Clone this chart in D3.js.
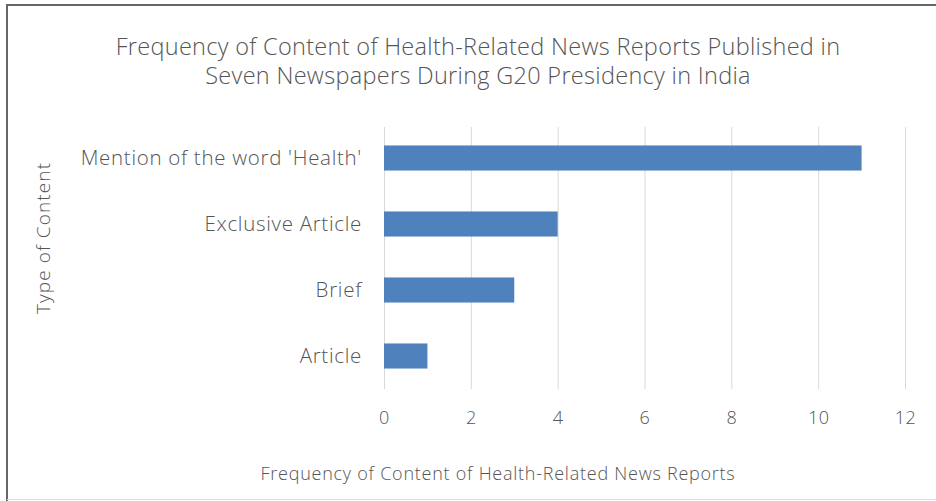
<!doctype html>
<html lang="en">
<head>
<meta charset="utf-8">
<title>Health-Related News Reports</title>
<script src="https://cdn.jsdelivr.net/npm/d3@7"></script>
<style>
	body { margin: 0; background: #fff; }
	text { font-family: "Open Sans", Lato, sans-serif; font-weight: 300; fill: #555; }
	.axis path.domain { stroke: none; }
	.axis line { stroke: none; }
</style>
</head>
<body>
<div id="viz"></div>
<script>

var categories = ["Mention of the word 'Health'", "Exclusive Article", "Brief", "Article"];
var counts = [11, 4, 3, 1];
var xTicks = [0, 2, 4, 6, 8, 10, 12];
var titleLines = ["Frequency of Content of Health-Related News Reports Published in",
	"Seven Newspapers During G20 Presidency in India"];
var xTitle = "Frequency of Content of Health-Related News Reports";
var yTitle = "Type of Content";

(function(d3) {

	var w = 936, h = 501;
	var margin = {top: 125, right: 31, bottom: 112, left: 384};
	var width = w - margin.left - margin.right,
		height = h - margin.top - margin.bottom;

	var data = categories.map((c, i) => ({name: c, value: counts[i]}));

	var svg = d3.select("#viz")
		.append("svg")
		.attr("width", w)
		.attr("height", h);

	// frame (cropped chart border)
	svg.append("line").attr("x1", 6).attr("x2", w).attr("y1", 5).attr("y2", 5)
		.style("stroke", "#666").style("stroke-width", 2);
	svg.append("line").attr("x1", 7).attr("x2", 7).attr("y1", 5).attr("y2", h)
		.style("stroke", "#666").style("stroke-width", 2);
	svg.append("line").attr("x1", 7).attr("x2", w).attr("y1", 499.5).attr("y2", 499.5)
		.style("stroke", "#ddd").style("stroke-width", 1);

	var xScale = d3.scaleLinear()
		.domain([0, 12])
		.range([0, width]);

	var yScale = d3.scaleBand()
		.domain(categories)
		.range([0, height])
		.paddingInner(0.62)
		.paddingOuter(0.31);

	var g = svg.append("g")
		.attr("transform", "translate(" + margin.left + "," + margin.top + ")");

	// vertical gridlines
	g.selectAll("line.grid")
		.data(xTicks)
		.enter()
		.append("line")
		.attr("class", "grid")
		.attr("x1", d => xScale(d) + 0.5)
		.attr("x2", d => xScale(d) + 0.5)
		.attr("y1", 2)
		.attr("y2", height)
		.style("stroke", "#d9d9d9")
		.style("stroke-width", 1);

	g.selectAll("rect.bar")
		.data(data)
		.enter()
		.append("rect")
		.attr("class", "bar")
		.attr("x", xScale(0))
		.attr("y", d => yScale(d.name))
		.attr("width", d => xScale(d.value) - xScale(0))
		.attr("height", yScale.bandwidth())
		.style("fill", "#4f81bd");

	var xAxis = d3.axisBottom(xScale)
		.tickValues(xTicks)
		.tickSize(0)
		.tickPadding(22);

	g.append("g")
		.attr("class", "axis")
		.attr("transform", "translate(0," + height + ")")
		.call(xAxis)
		.selectAll("text")
		.style("font-size", "18px")
		.style("letter-spacing", "0.5px")
		.style("fill", "#555");

	var yAxis = d3.axisLeft(yScale)
		.tickSize(0)
		.tickPadding(22);

	g.append("g")
		.attr("class", "axis")
		.call(yAxis)
		.selectAll("text")
		.style("font-size", "20.5px")
		.style("letter-spacing", "0.7px")
		.style("fill", "#555");

	// title
	svg.append("g")
		.selectAll("text")
		.data(titleLines)
		.enter()
		.append("text")
		.attr("x", 478)
		.attr("y", (d, i) => 55 + i * 29)
		.attr("text-anchor", "middle")
		.style("font-size", "23.5px")
		.style("letter-spacing", "0.3px")
		.text(d => d);

	svg.append("text")
		.attr("x", 498)
		.attr("y", 480)
		.attr("text-anchor", "middle")
		.style("font-size", "18px")
		.style("letter-spacing", "0.75px")
		.text(xTitle);

	svg.append("text")
		.attr("transform", "translate(50," + (margin.top + height / 2 - 19) + ") rotate(-90)")
		.attr("text-anchor", "middle")
		.style("font-size", "19px")
		.style("letter-spacing", "1.1px")
		.text(yTitle);

})(d3);

</script>
</body>
</html>
